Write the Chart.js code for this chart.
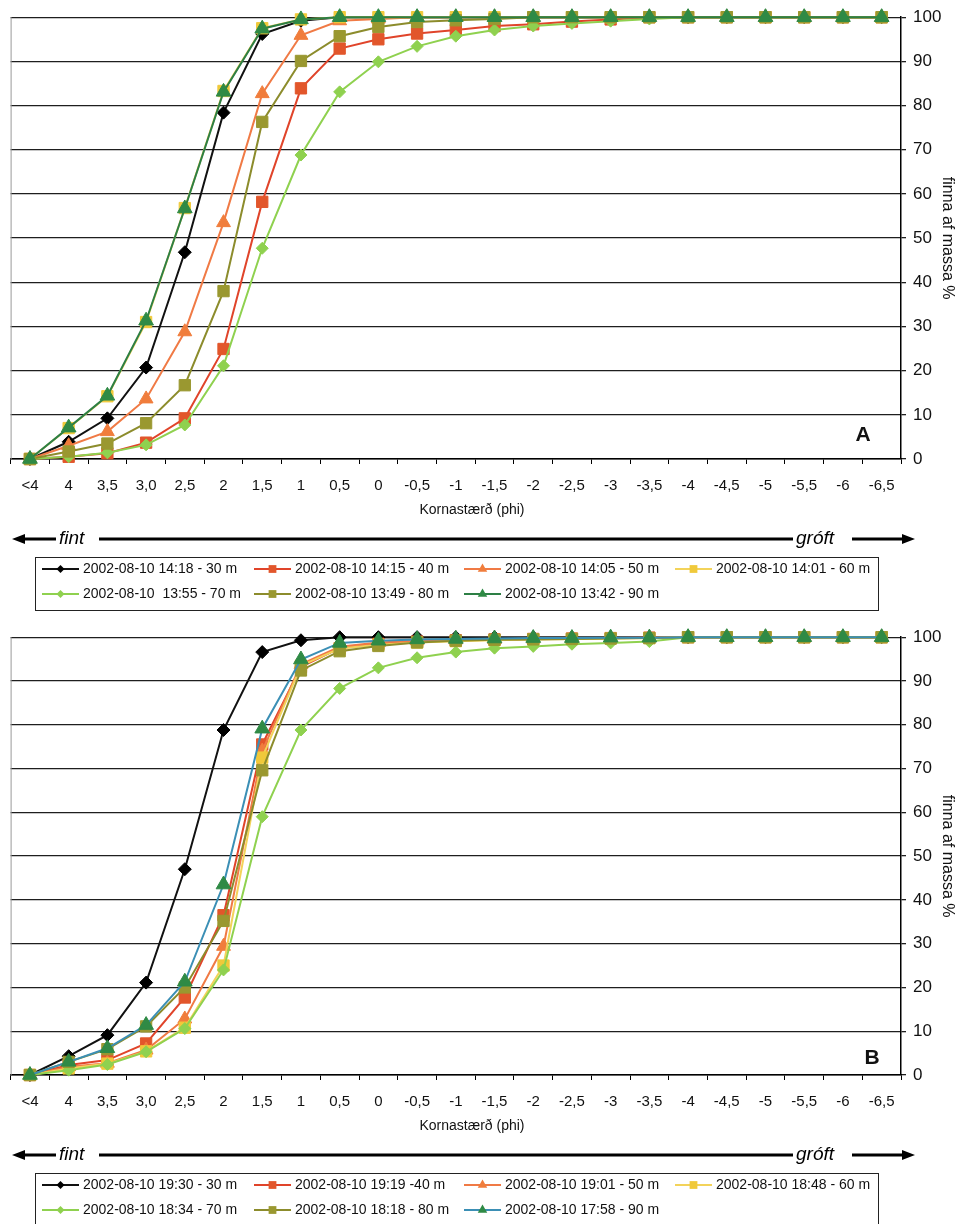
<!DOCTYPE html>
<html>
<head>
<meta charset="utf-8">
<script src="https://cdn.jsdelivr.net/npm/chart.js@4.4.0/dist/chart.umd.min.js"></script>
<style>
    body { margin: 0; background: #fff; }
    .panel { position: absolute; left: 0; }
</style>
</head>
<body>
<div class="panel" style="top:0"><canvas id="chartA" width="959" height="620"></canvas></div>
<div class="panel" style="top:620px"><canvas id="chartB" width="959" height="604"></canvas></div>
<script>
// grain size classes (phi), fine -> coarse
const categories = ['<4', '4', '3,5', '3,0', '2,5', '2', '1,5', '1', '0,5', '0', '-0,5', '-1', '-1,5',
    '-2', '-2,5', '-3', '-3,5', '-4', '-4,5', '-5', '-5,5', '-6', '-6,5'];
const yTicks = [0, 10, 20, 30, 40, 50, 60, 70, 80, 90, 100];

// chart A
const labelsA = ['2002-08-10 14:18 - 30 m', '2002-08-10 14:15 - 40 m', '2002-08-10 14:05 - 50 m',
    '2002-08-10 14:01 - 60 m', '2002-08-10  13:55 - 70 m', '2002-08-10 13:49 - 80 m', '2002-08-10 13:42 - 90 m'];
const a30 = [0, 3.9, 9.2, 20.7, 46.8, 78.4, 96.2, 99.2, 100, 100, 100, 100, 100, 100, 100, 100, 100, 100, 100, 100, 100, 100, 100];
const a40 = [0, 0.5, 1.3, 3.7, 9.2, 24.9, 58.2, 83.9, 92.9, 95.0, 96.3, 97.1, 98.0, 98.4, 99.0, 99.5, 100, 100, 100, 100, 100, 100, 100];
const a50 = [0, 3.0, 6.2, 13.6, 28.8, 53.5, 82.7, 95.9, 99.2, 99.6, 100, 100, 100, 100, 100, 100, 100, 100, 100, 100, 100, 100, 100];
const a60 = [0, 7.0, 14.2, 31.0, 56.8, 83.3, 97.5, 99.5, 100, 100, 100, 100, 100, 100, 100, 100, 100, 100, 100, 100, 100, 100, 100];
const a70 = [0, 0.5, 1.4, 3.2, 7.7, 21.1, 47.7, 68.8, 83.1, 89.9, 93.4, 95.7, 97.1, 98.0, 98.6, 99.1, 99.6, 100, 100, 100, 100, 100, 100];
const a80 = [0, 1.7, 3.5, 8.1, 16.7, 38.0, 76.3, 90.1, 95.7, 97.8, 98.9, 99.3, 99.6, 100, 100, 100, 100, 100, 100, 100, 100, 100, 100];
const a90 = [0, 7.1, 14.3, 31.3, 56.7, 83.1, 97.4, 99.5, 100, 100, 100, 100, 100, 100, 100, 100, 100, 100, 100, 100, 100, 100, 100];

// chart B
const labelsB = ['2002-08-10 19:30 - 30 m', '2002-08-10 19:19 -40 m', '2002-08-10 19:01 - 50 m',
    '2002-08-10 18:48 - 60 m', '2002-08-10 18:34 - 70 m', '2002-08-10 18:18 - 80 m', '2002-08-10 17:58 - 90 m'];
const b30 = [0, 4.3, 9.1, 21.1, 47.0, 78.8, 96.6, 99.3, 100, 100, 100, 100, 100, 100, 100, 100, 100, 100, 100, 100, 100, 100, 100];
const b40 = [0, 2.3, 3.4, 7.2, 17.7, 36.5, 75.5, 93.2, 97.5, 98.5, 99.0, 99.3, 99.5, 99.6, 99.7, 99.8, 99.9, 100, 100, 100, 100, 100, 100];
const b50 = [0, 1.9, 2.7, 5.7, 12.8, 29.4, 74.0, 93.8, 97.8, 98.8, 99.2, 99.4, 99.5, 99.6, 99.7, 99.8, 99.9, 100, 100, 100, 100, 100, 100];
const b60 = [0, 1.5, 2.6, 5.4, 10.8, 25.0, 72.5, 93.5, 97.4, 98.3, 98.8, 99.1, 99.3, 99.5, 99.6, 99.7, 99.8, 100, 100, 100, 100, 100, 100];
const b70 = [0, 1.1, 2.4, 5.3, 10.6, 24.0, 59.0, 78.8, 88.3, 93.0, 95.3, 96.6, 97.5, 97.9, 98.4, 98.7, 99.0, 100, 100, 100, 100, 100, 100];
const b80 = [0, 3.0, 5.9, 11.1, 20.0, 35.2, 69.6, 92.4, 96.8, 98.0, 98.8, 99.2, 99.4, 99.5, 99.6, 99.7, 99.8, 100, 100, 100, 100, 100, 100];
const b90 = [0, 3.0, 6.1, 11.4, 21.3, 43.5, 79.1, 94.9, 98.7, 99.2, 99.5, 99.6, 99.7, 99.8, 99.8, 99.9, 99.9, 100, 100, 100, 100, 100, 100];

const FONT = '"Liberation Sans", Arial, sans-serif';

// line / marker look per sampling depth
const stylesA = [
    { line: '#111111', marker: '#000000', style: 'rectRot', radius: 6.5 },
    { line: '#e0442a', marker: '#e2562b', style: 'rect', radius: 8 },
    { line: '#f07a45', marker: '#f07d3c', style: 'triangle', radius: 8 },
    { line: '#f3d35a', marker: '#f0c93a', style: 'rect', radius: 8 },
    { line: '#8fd14f', marker: '#8fd14f', style: 'rectRot', radius: 6 },
    { line: '#8c8c2c', marker: '#9a9830', style: 'rect', radius: 8 },
    { line: '#2d7f45', marker: '#2f8a45', style: 'triangle', radius: 8.5 }
];
const stylesB = stylesA.map((s, i) => i === 6 ? { ...s, line: '#3b8fb5' } : s);

function drawMarker(ctx, style, x, y, r, color) {
    ctx.fillStyle = color;
    ctx.beginPath();
    if (style === 'rectRot') {
        ctx.moveTo(x, y - r); ctx.lineTo(x + r, y); ctx.lineTo(x, y + r); ctx.lineTo(x - r, y);
    } else if (style === 'rect') {
        const s = r * Math.SQRT1_2;
        ctx.rect(x - s, y - s, 2 * s, 2 * s);
    } else {
        for (let k = 0; k < 3; k++) {
            const a = k * 2 * Math.PI / 3;
            ctx.lineTo(x + Math.sin(a) * r, y - Math.cos(a) * r);
        }
    }
    ctx.closePath();
    ctx.fill();
}

// plot frame, x title, fint/gróft arrow and the boxed legend
const panelExtras = {
    id: 'panelExtras',
    afterDraw(chart, args, opts) {
        const { ctx, chartArea: area } = chart;
        ctx.save();

        ctx.strokeStyle = '#999';
        ctx.lineWidth = 1;
        ctx.beginPath();
        ctx.moveTo(area.left + 0.5, area.top);
        ctx.lineTo(area.left + 0.5, area.bottom);
        ctx.stroke();

        ctx.fillStyle = '#111';
        ctx.textBaseline = 'middle';
        ctx.textAlign = 'center';
        ctx.font = '14px ' + FONT;
        ctx.fillText('Kornastærð (phi)', 472, area.bottom + 51);

        ctx.font = 'bold 21px ' + FONT;
        ctx.fillText(opts.letter, area.right + opts.letterDx, area.bottom + opts.letterDy);

        // arrow row
        const ay = area.bottom + 80;
        ctx.strokeStyle = '#000';
        ctx.fillStyle = '#000';
        ctx.lineWidth = 3;
        ctx.beginPath();
        ctx.moveTo(22, ay); ctx.lineTo(56, ay);
        ctx.moveTo(99, ay); ctx.lineTo(793, ay);
        ctx.moveTo(852, ay); ctx.lineTo(904, ay);
        ctx.stroke();
        ctx.beginPath();
        ctx.moveTo(12, ay); ctx.lineTo(25, ay - 5); ctx.lineTo(25, ay + 5); ctx.closePath();
        ctx.moveTo(915, ay); ctx.lineTo(902, ay - 5); ctx.lineTo(902, ay + 5); ctx.closePath();
        ctx.fill();
        ctx.font = 'italic 19px ' + FONT;
        ctx.textAlign = 'left';
        ctx.fillText('fint', 59, ay);
        ctx.fillText('gróft', 796, ay);

        // legend box
        const top = area.bottom + 98;
        ctx.lineWidth = 1;
        ctx.strokeStyle = '#222';
        ctx.strokeRect(35.5, top + 0.5, 843, 53);
        const cols = [42, 254, 464, 675];
        ctx.font = '14px ' + FONT;
        opts.labels.forEach((label, i) => {
            const x = cols[i % 4];
            const y = top + 12 + Math.floor(i / 4) * 25;
            const st = opts.styles[i];
            ctx.strokeStyle = st.line;
            ctx.lineWidth = 2;
            ctx.beginPath();
            ctx.moveTo(x, y); ctx.lineTo(x + 37, y);
            ctx.stroke();
            const r = st.style === 'rectRot' ? 4 : 5.5;
            drawMarker(ctx, st.style, x + 18.5, y, r, st.marker);
            ctx.fillStyle = '#111';
            ctx.fillText(label, x + 41, y);
        });
        ctx.restore();
    }
};

function makeDatasets(labels, series, styles) {
    return series.map((values, i) => ({
        label: labels[i],
        data: values,
        borderColor: styles[i].line,
        backgroundColor: styles[i].marker,
        pointBackgroundColor: styles[i].marker,
        pointBorderColor: styles[i].marker,
        pointBorderWidth: 1,
        pointStyle: styles[i].style,
        pointRadius: styles[i].radius,
        borderWidth: 2,
        tension: 0,
        clip: false,
        order: series.length - i
    }));
}

function createChart(id, labels, series, styles, padBottom, extras) {
    return new Chart(document.getElementById(id), {
        type: 'line',
        data: { labels: categories, datasets: makeDatasets(labels, series, styles) },
        options: {
            responsive: false,
            animation: false,
            layout: { padding: { left: 10.6, right: 0, top: 17, bottom: padBottom } },
            plugins: {
                legend: { display: false },
                tooltip: { enabled: false },
                panelExtras: { labels, styles, ...extras }
            },
            scales: {
                x: {
                    type: 'category',
                    offset: true,
                    grid: { drawOnChartArea: false, offset: true, tickLength: 5, color: '#000' },
                    border: { color: '#000', width: 1.5 },
                    ticks: { font: { size: 15, family: FONT }, color: '#111', padding: 13, maxRotation: 0, autoSkip: false },
                    afterFit: s => { s.height = 44; }
                },
                y: {
                    position: 'right',
                    min: yTicks[0],
                    max: yTicks[yTicks.length - 1],
                    afterBuildTicks: s => { s.ticks = yTicks.map(v => ({ value: v })); },
                    ticks: { font: { size: 17, family: FONT }, color: '#111', padding: 7 },
                    grid: { color: '#1e1e1e', lineWidth: 1.3, tickLength: 5 },
                    border: { color: '#000', width: 1.5 },
                    title: { display: true, text: 'finna af massa %', font: { size: 16, family: FONT }, color: '#111', padding: { top: 2 } },
                    afterFit: s => { s.width = 58; }
                }
            }
        },
        plugins: [panelExtras]
    });
}

createChart('chartA', labelsA, [a30, a40, a50, a60, a70, a80, a90], stylesA, 117,
    { letter: 'A', letterDx: -38, letterDy: -24 });
createChart('chartB', labelsB, [b30, b40, b50, b60, b70, b80, b90], stylesB, 105,
    { letter: 'B', letterDx: -29, letterDy: -17 });
</script>
</body>
</html>
